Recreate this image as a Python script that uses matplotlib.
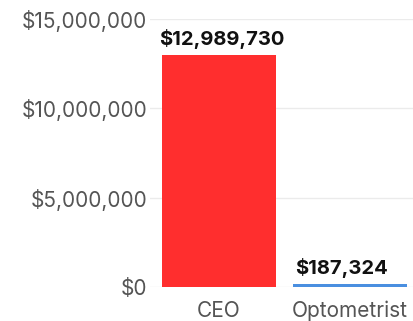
import matplotlib.pyplot as plt
from matplotlib.ticker import FuncFormatter

jobs = ['CEO', 'Optometrist']
pay = [12989730, 187324]
bar_colors = ['#ff2e2e', '#4a8fe0']
yticks = [0, 5000000, 10000000, 15000000]

plt.rcParams['font.family'] = ['Inter', 'DejaVu Sans']

fig = plt.figure(figsize=(4.13, 3.21), dpi=100)
ax = fig.add_axes([150/413, 34/321, 263/413, 268/321])

ax.bar(range(len(jobs)), pay, width=0.87, color=bar_colors, zorder=3)
# value labels sit just above each bar
for i, v in enumerate(pay):
    ax.annotate(f'${v:,.0f}', (i, v), xytext=(-6.5 if i else 2, 4), textcoords='offset points',
                ha='center', va='bottom', fontsize=14.5, fontweight='bold', color='#111111')

ax.set_xlim(-0.527, 1.48)
ax.set_ylim(0, 15000000)
ax.set_yticks(yticks)
ax.yaxis.set_major_formatter(FuncFormatter(lambda v, p: f'${v:,.0f}'))
ax.set_xticks(range(len(jobs)), jobs)
ax.tick_params(length=0, labelsize=15, labelcolor='#555555')
ax.tick_params(axis='x', pad=10)
ax.tick_params(axis='y', pad=2)
ax.grid(axis='y', color='#ebebeb', linewidth=1, zorder=0)
for s in ax.spines.values():
    s.set_visible(False)

fig.savefig('out.png', dpi=100)
